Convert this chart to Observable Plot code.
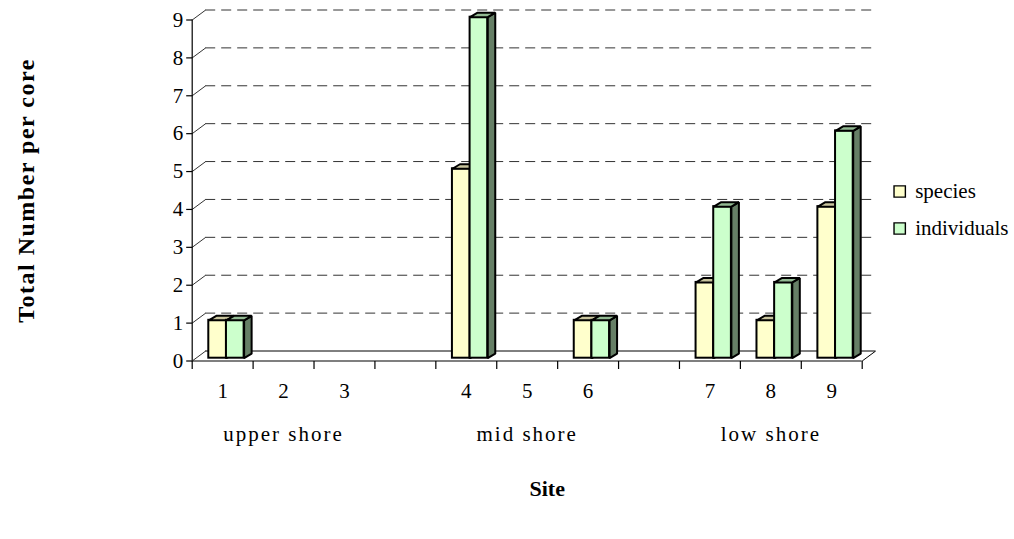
<!DOCTYPE html>
<html>
<head>
<meta charset="utf-8">
<script src="https://cdn.jsdelivr.net/npm/d3@7"></script>
<script src="https://cdn.jsdelivr.net/npm/@observablehq/plot@0.6"></script>
<style>
  html, body { margin: 0; padding: 0; background: #fff; }
  #chart svg { display: block; }
</style>
</head>
<body>
<div id="chart"></div>
<script>
// Sites, grouped by shore level
const sites = ["1", "2", "3", "4", "5", "6", "7", "8", "9"];
const shores = ["upper shore", "upper shore", "upper shore",
                "mid shore", "mid shore", "mid shore",
                "low shore", "low shore", "low shore"];
// Totals per core
const species = [1, 0, 0, 5, 0, 1, 2, 1, 4];
const individuals = [1, 0, 0, 9, 0, 1, 4, 2, 6];
const seriesNames = ["species", "individuals"];
const yTicks = [0, 1, 2, 3, 4, 5, 6, 7, 8, 9];
const xTitle = "Site";
const yTitle = "Total Number per core";

// Face colours (front, top, side) for each series
const frontColors = ["#FFFFCC", "#CCFFCC"];
const topColors = ["#C9C59E", "#93BA93"];
const sideColors = ["#9C9C78", "#667F66"];

const W = 1014, H = 539;
const marginLeft = 191.7, marginRight = 152.3, marginTop = 19.5, marginBottom = 178.5;

const shoreNames = [...new Set(shores)];
// one empty slot between shore groups
const slotOf = sites.map((s, i) => i + shoreNames.indexOf(shores[i]));
const nSlots = sites.length + shoreNames.length - 1;
const yMax = d3.max(yTicks);

// pixel sizes of one data unit
const pxX = (W - marginLeft - marginRight) / nSlots;
const pxY = (H - marginTop - marginBottom) / yMax;

// pseudo-3D depth: back wall offset and bar placement/depth (pixels)
const wallDx = 13.5, wallDy = -10;
const barDx = 3.5, barDy = -2.8, barDepthX = 7.5, barDepthY = -4.5;
const wallX = wallDx / pxX, wallY = -wallDy / pxY;
const depthX = barDepthX / pxX, depthY = -barDepthY / pxY;
const barStart = 0.215, barWidth = 0.29;

const values = [species, individuals];
const bars = [];
seriesNames.forEach((name, s) => {
  values[s].forEach((v, i) => {
    if (v > 0) {
      const x1 = slotOf[i] + barStart + s * barWidth;
      bars.push({series: name, s, site: sites[i], value: v, x1, x2: x1 + barWidth});
    }
  });
});

function topFace(b) {
  return [[b.x1, b.value], [b.x1 + depthX, b.value + depthY],
          [b.x2 + depthX, b.value + depthY], [b.x2, b.value]]
    .map(([x, y]) => ({id: b.series + b.site, x, y}));
}
function sideFace(b) {
  return [[b.x2, 0], [b.x2, b.value], [b.x2 + depthX, b.value + depthY], [b.x2 + depthX, depthY]]
    .map(([x, y]) => ({id: b.series + b.site, x, y}));
}

const barStyle = {stroke: "#000", strokeWidth: 2, strokeLinejoin: "miter", dx: barDx, dy: barDy};

const barMarks = seriesNames.flatMap((name, s) => {
  const bs = bars.filter(b => b.s === s);
  return [
    Plot.rect(bs, {x1: "x1", x2: "x2", y1: 0, y2: "value", fill: "series", ...barStyle}),
    Plot.line(bs.flatMap(sideFace), {x: "x", y: "y", z: "id", curve: "linear-closed", fill: sideColors[s], ...barStyle}),
    Plot.line(bs.flatMap(topFace), {x: "x", y: "y", z: "id", curve: "linear-closed", fill: topColors[s], ...barStyle})
  ];
});

const legendMarks = seriesNames.flatMap((name, i) => [
  Plot.dot([name], {frameAnchor: "right", dx: 37.5, dy: 1 + i * 37, symbol: "square", r: 6.4,
                    fill: d => d, stroke: "#000", strokeWidth: 1.4}),
  Plot.text([name], {frameAnchor: "right", dx: 53, dy: 1 + i * 37, text: d => d, textAnchor: "start",
                     fontSize: 21})
]);

const groupCenters = shoreNames.map(g => {
  const sl = slotOf.filter((_, i) => shores[i] === g);
  return {name: g, x: (d3.min(sl) + d3.max(sl) + 1) / 2};
});

const chart = Plot.plot({
  width: W,
  height: H,
  marginLeft, marginRight, marginTop, marginBottom,
  style: {fontFamily: "'Liberation Serif', 'Times New Roman', serif", fontSize: "21px", background: "#fff", overflow: "visible"},
  x: {type: "linear", domain: [0, nSlots], axis: null},
  y: {type: "linear", domain: [0, yMax], axis: null},
  color: {domain: seriesNames, range: frontColors},
  marks: [
    // back wall gridlines
    Plot.ruleY(yTicks.filter(d => d > 0), {x1: 0, x2: nSlots, dx: wallDx, dy: wallDy,
      stroke: "#333", strokeWidth: 1, strokeDasharray: "10,6"}),
    // side wall ribs and floor edges
    Plot.link(yTicks, {x1: 0, y1: d => d, x2: wallX, y2: d => d + wallY, stroke: "#333", strokeWidth: 1}),
    Plot.ruleY([0], {x1: 0, x2: nSlots, dx: wallDx, dy: wallDy, stroke: "#000", strokeWidth: 1}),
    Plot.link([0], {x1: nSlots, y1: 0, x2: nSlots + wallX, y2: wallY, stroke: "#000", strokeWidth: 1}),
    // front axes
    Plot.ruleY([0], {x1: 0, x2: nSlots, stroke: "#000", strokeWidth: 1.2}),
    Plot.ruleX([0], {y1: 0, y2: yMax, stroke: "#000", strokeWidth: 1.2}),
    Plot.link(yTicks, {x1: 0, x2: -6 / pxX, y1: d => d, y2: d => d, stroke: "#000", strokeWidth: 1.2}),
    Plot.link(d3.range(nSlots + 1), {x1: d => d, x2: d => d, y1: 0, y2: -8 / pxY, stroke: "#000", strokeWidth: 1.2}),
    Plot.text(yTicks, {x: 0, y: d => d, dx: -9, text: d => String(d), textAnchor: "end", fontSize: 21}),
    // bars
    ...barMarks,
    // category labels
    Plot.text(sites, {x: (d, i) => slotOf[i] + 0.5, y: 0, dy: 30, text: d => d, fontSize: 21}),
    Plot.text(groupCenters, {x: "x", y: 0, dy: 73, text: "name", fontSize: 21}),
    // axis titles
    Plot.text([xTitle], {frameAnchor: "bottom", dx: 20, dy: 135, text: d => d, fontWeight: "bold", fontSize: 22}),
    Plot.text([yTitle], {frameAnchor: "left", dx: -166, rotate: -90, text: d => d,
      textAnchor: "middle", fontWeight: "bold", fontSize: 24}),
    ...legendMarks
  ]
});

// wider tracking on the shore labels and the vertical title
const spacing = new Map([...shoreNames.map(n => [n, "2px"]), [yTitle, "1.5px"]]);
d3.select(chart).selectAll("text").each(function () {
  const s = spacing.get(this.textContent);
  if (s) this.style.letterSpacing = s;
});

document.getElementById("chart").appendChild(chart);
</script>
</body>
</html>
